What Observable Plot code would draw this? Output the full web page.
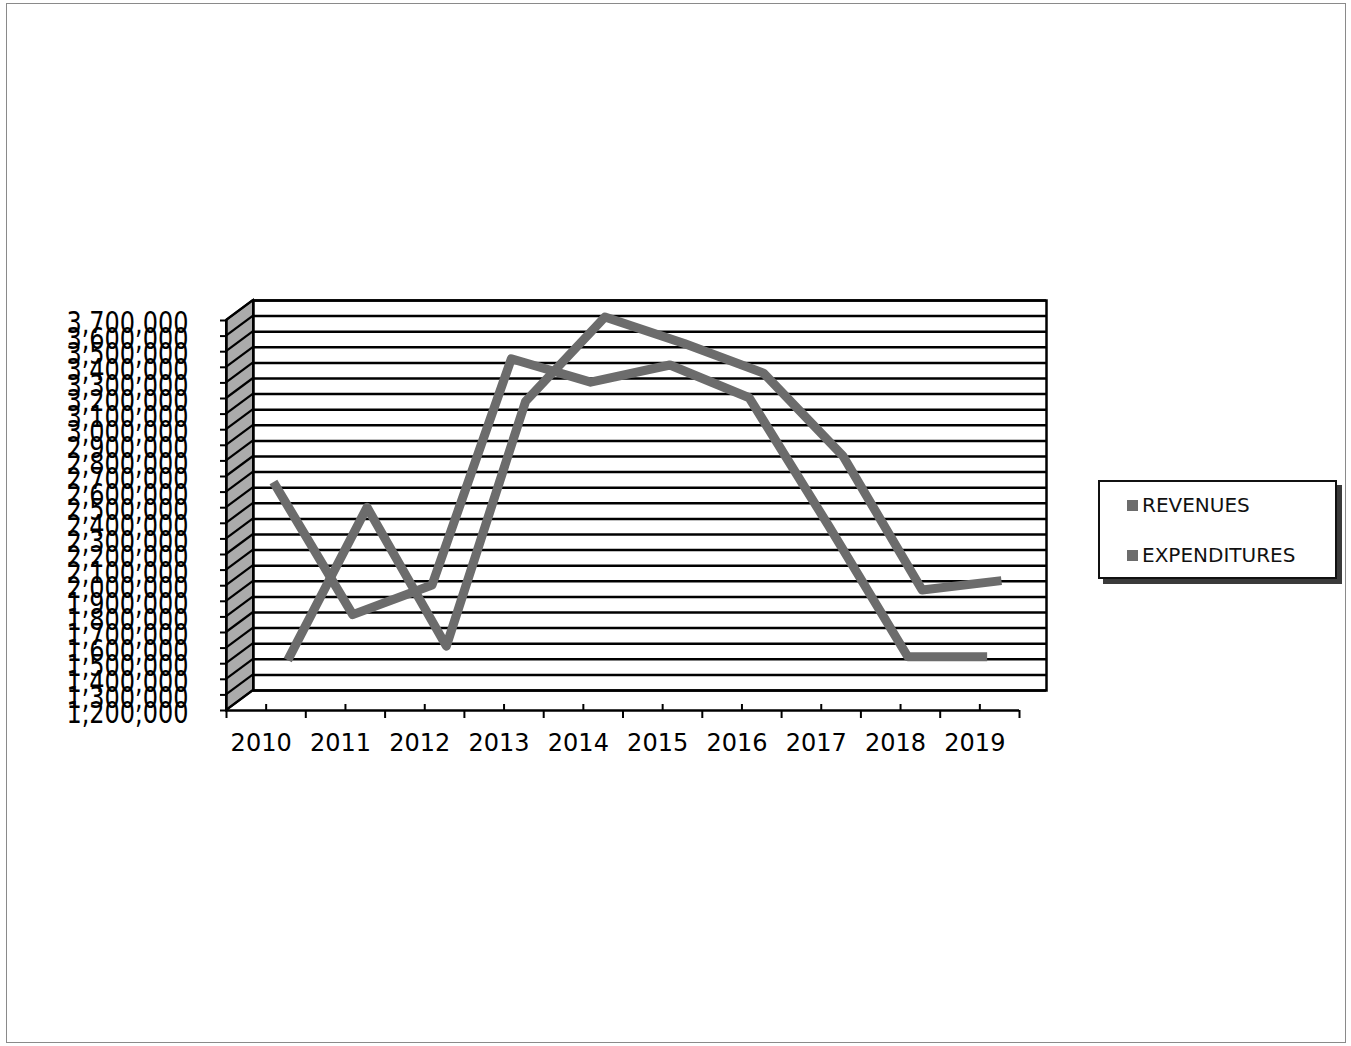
<!DOCTYPE html>
<html>
<head>
<meta charset="utf-8">
<script src="https://cdn.jsdelivr.net/npm/d3@7"></script>
<script src="https://cdn.jsdelivr.net/npm/@observablehq/plot@0.6"></script>
<style>
  html, body { margin: 0; padding: 0; background: #fff; }
  #wrap { position: relative; width: 1351px; height: 1046px; font-family: "DejaVu Sans", Verdana, sans-serif; overflow: hidden; }
  #border { position: absolute; left: 6px; top: 3px; width: 1340px; height: 1040px; border: 1.5px solid #8a8a8a; box-sizing: border-box; pointer-events: none; }
  #legend { position: absolute; left: 1098px; top: 480px; width: 239px; height: 99px; border: 2px solid #111; box-shadow: 5px 5px 0 #3a3a3a; background: #fff; box-sizing: border-box; }
  .item { position: absolute; left: 27px; font-size: 20px; line-height: 22px; color: #111; white-space: nowrap; }
  .sw { display: inline-block; width: 11px; height: 11px; background: #6a6a6a; margin-right: 4px; vertical-align: 1px; }
</style>
</head>
<body>
<div id="wrap">
  <div id="chart"></div>
  <div id="border"></div>
  <div id="legend"></div>
</div>
<script>
// ---- data ----
const years = [2010, 2011, 2012, 2013, 2014, 2015, 2016, 2017, 2018, 2019];
const revenues = [2630000, 1780000, 1970000, 3420000, 3270000, 3380000, 3170000, 2350000, 1510000, 1510000];
const expenditures = [1420000, 2400000, 1510000, 3080000, 3620000, 3450000, 3260000, 2730000, 1870000, 1930000];
const seriesNames = ["REVENUES", "EXPENDITURES"];
const yTicks = d3.range(1200000, 3700001, 100000);
const categoryEdges = d3.range(2009.5, 2019.6, 1);

// ---- styling (3-D projection offsets in pixels) ----
const DEPTH_DX = 27, DEPTH_DY = -20;
const seriesDepth = {REVENUES: 0.27, EXPENDITURES: 0.8};
const lineColor = "#6c6c6c";

const revRows = years.map((year, i) => ({year, value: revenues[i], series: seriesNames[0]}));
const expRows = years.map((year, i) => ({year, value: expenditures[i], series: seriesNames[1]}));

function sideWall(index, scales) {
  const x = scales.x, y = scales.y;
  const x0 = x(categoryEdges[0]);
  const [lo, hi] = d3.extent(yTicks);
  const g = d3.create("svg:g");
  const pts = [
    [x0, y(hi)], [x0 + DEPTH_DX, y(hi) + DEPTH_DY],
    [x0 + DEPTH_DX, y(lo) + DEPTH_DY], [x0, y(lo)]
  ];
  g.append("polygon").attr("points", pts.map(p => p.join(",")).join(" "))
    .attr("fill", "#ababab").attr("stroke", "#000").attr("stroke-width", 2);
  for (const v of yTicks) {
    g.append("line")
      .attr("x1", x0).attr("y1", y(v))
      .attr("x2", x0 + DEPTH_DX).attr("y2", y(v) + DEPTH_DY)
      .attr("stroke", "#000").attr("stroke-width", 2.2);
  }
  return g.node();
}

const W = 1351, H = 1046;
const plot = Plot.plot({
  width: W,
  height: H,
  marginLeft: 226,
  marginRight: W - 1019,
  marginTop: 320,
  marginBottom: H - 710,
  x: {type: "linear", domain: [categoryEdges[0], categoryEdges[categoryEdges.length - 1]]},
  y: {type: "linear", domain: d3.extent(yTicks)},
  style: {fontFamily: "DejaVu Sans, Verdana, sans-serif", background: "white", color: "#000"},
  marks: [
    sideWall,
    Plot.frame({dx: DEPTH_DX, dy: DEPTH_DY, stroke: "#000", strokeWidth: 2.5}),
    Plot.ruleY(yTicks, {dx: DEPTH_DX, dy: DEPTH_DY, stroke: "#000", strokeWidth: 2.5}),
    Plot.line(expRows, {x: "year", y: "value", dx: DEPTH_DX * seriesDepth.EXPENDITURES, dy: DEPTH_DY * seriesDepth.EXPENDITURES, stroke: lineColor, strokeWidth: 9, strokeLinejoin: "round", strokeLinecap: "butt"}),
    Plot.line(revRows, {x: "year", y: "value", dx: DEPTH_DX * seriesDepth.REVENUES, dy: DEPTH_DY * seriesDepth.REVENUES, stroke: lineColor, strokeWidth: 9, strokeLinejoin: "round", strokeLinecap: "butt"}),
    Plot.ruleY([yTicks[0]], {stroke: "#000", strokeWidth: 2.5}),
    Plot.ruleX([categoryEdges[0]], {stroke: "#000", strokeWidth: 2.5}),
    Plot.ruleX(categoryEdges, {y1: yTicks[0], y2: yTicks[0], insetBottom: -8, stroke: "#000", strokeWidth: 2}),
    Plot.ruleX(years, {y1: yTicks[0], y2: yTicks[0], insetTop: -6, stroke: "#000", strokeWidth: 2}),
    Plot.axisY(yTicks, {tickSize: 6, tickPadding: 32, tickFormat: d3.format(","), fontSize: 24, stroke: "#000", strokeWidth: 2, label: null}),
    Plot.axisX(years, {tickSize: 0, tickPadding: 23, tickFormat: d => String(d), fontSize: 24, dx: -5, label: null})
  ]
});

// stretch the value-axis labels vertically, as in the original
plot.querySelectorAll('g[aria-label="y-axis tick label"] text').forEach(t => {
  let tr = t.getAttribute("transform");
  if (!tr) {
    const x = t.getAttribute("x") || 0, y = t.getAttribute("y") || 0;
    t.removeAttribute("x"); t.removeAttribute("y");
    tr = `translate(${x},${y})`;
  }
  t.setAttribute("transform", tr + " translate(0,3) scale(1,1.25)");
});

document.getElementById("chart").appendChild(plot);

// legend
const legend = document.getElementById("legend");
seriesNames.forEach((name, i) => {
  const d = document.createElement("div");
  d.className = "item";
  d.style.top = (12 + i * 50) + "px";
  const sw = document.createElement("span");
  sw.className = "sw";
  sw.style.background = lineColor;
  d.appendChild(sw);
  d.appendChild(document.createTextNode(name));
  legend.appendChild(d);
});
</script>
</body>
</html>
